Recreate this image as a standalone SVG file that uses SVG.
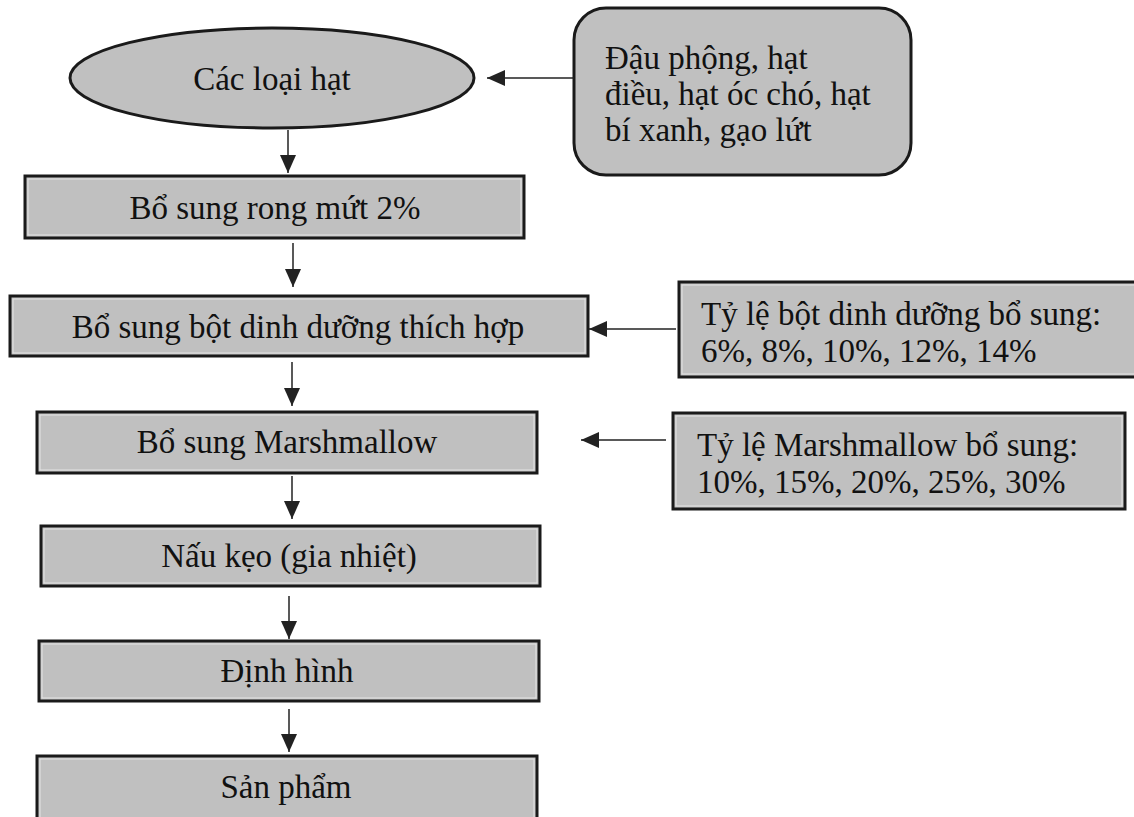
<svg xmlns="http://www.w3.org/2000/svg" width="1134" height="817" viewBox="0 0 1134 817">
<style>
.box{fill:#c0c0c0;stroke:#1a1a1a;stroke-width:3}
.inner{fill:none;stroke:#e4e4e4;stroke-width:1}
.t{font-family:"Liberation Serif","Times New Roman",serif;font-size:33px;fill:#111}
.c{text-anchor:middle}
.edge{stroke:#222;stroke-width:1.5;fill:none;marker-end:url(#ah)}
</style>
<defs>
<marker id="ah" viewBox="0 0 18 16" refX="18" refY="8" markerWidth="18" markerHeight="16" markerUnits="userSpaceOnUse" orient="auto">
<path d="M0,0 L18,8 L0,16 z" fill="#222"/>
</marker>
</defs>
<rect width="1134" height="817" fill="#fff"/>
<g id="n-hat">
<ellipse cx="272" cy="78" rx="202" ry="50" class="box"/>
<text class="t c" x="272" y="90">Các loại hạt</text>
</g>
<g id="n-nguyenlieu">
<rect x="574" y="8" width="337" height="167" rx="32" class="box"/>
<text class="t" x="605" y="69">Đậu phộng, hạt</text>
<text class="t" x="605" y="105">điều, hạt óc chó, hạt</text>
<text class="t" x="605" y="141">bí xanh, gạo lứt</text>
</g>
<g id="n-rong">
<rect x="25" y="176" width="499" height="62" class="box"/>
<rect x="28" y="179" width="493" height="56" class="inner"/>
<text class="t c" x="275" y="219">Bổ sung rong mứt 2%</text>
</g>
<g id="n-bot">
<rect x="10" y="296" width="578" height="60" class="box"/>
<rect x="13" y="299" width="572" height="54" class="inner"/>
<text class="t c" x="298" y="338">Bổ sung bột dinh dưỡng thích hợp</text>
</g>
<g id="n-tyle-bot">
<rect x="679" y="282" width="460" height="95" class="box"/>
<rect x="682" y="285" width="460" height="89" class="inner"/>
<text class="t" x="701" y="325">Tỷ lệ bột dinh dưỡng bổ sung:</text>
<text class="t" x="701" y="362">6%, 8%, 10%, 12%, 14%</text>
</g>
<g id="n-marsh">
<rect x="37" y="412" width="500" height="61" class="box"/>
<rect x="40" y="415" width="494" height="55" class="inner"/>
<text class="t c" x="287" y="453">Bổ sung Marshmallow</text>
</g>
<g id="n-tyle-marsh">
<rect x="673" y="413" width="452" height="96" class="box"/>
<rect x="676" y="416" width="446" height="90" class="inner"/>
<text class="t" x="697" y="456">Tỷ lệ Marshmallow bổ sung:</text>
<text class="t" x="697" y="493">10%, 15%, 20%, 25%, 30%</text>
</g>
<g id="n-nau">
<rect x="41" y="526" width="499" height="60" class="box"/>
<rect x="44" y="529" width="493" height="54" class="inner"/>
<text class="t c" x="289" y="567">Nấu kẹo (gia nhiệt)</text>
</g>
<g id="n-dinhhinh">
<rect x="39" y="641" width="500" height="60" class="box"/>
<rect x="42" y="644" width="494" height="54" class="inner"/>
<text class="t c" x="287" y="682">Định hình</text>
</g>
<g id="n-sanpham">
<rect x="37" y="756" width="500" height="70" class="box"/>
<rect x="40" y="759" width="494" height="64" class="inner"/>
<text class="t c" x="286" y="798">Sản phẩm</text>
</g>
<g id="connectors">
<line class="edge" x1="574" y1="78" x2="487" y2="78"/>
<line class="edge" x1="288" y1="130" x2="288" y2="173"/>
<line class="edge" x1="293" y1="243" x2="293" y2="287"/>
<line class="edge" x1="676" y1="329" x2="589" y2="329"/>
<line class="edge" x1="292" y1="362" x2="292" y2="406"/>
<line class="edge" x1="666" y1="440" x2="581" y2="440"/>
<line class="edge" x1="292" y1="476" x2="292" y2="519"/>
<line class="edge" x1="289" y1="596" x2="289" y2="639"/>
<line class="edge" x1="289" y1="709" x2="289" y2="752"/>
</g>
</svg>
